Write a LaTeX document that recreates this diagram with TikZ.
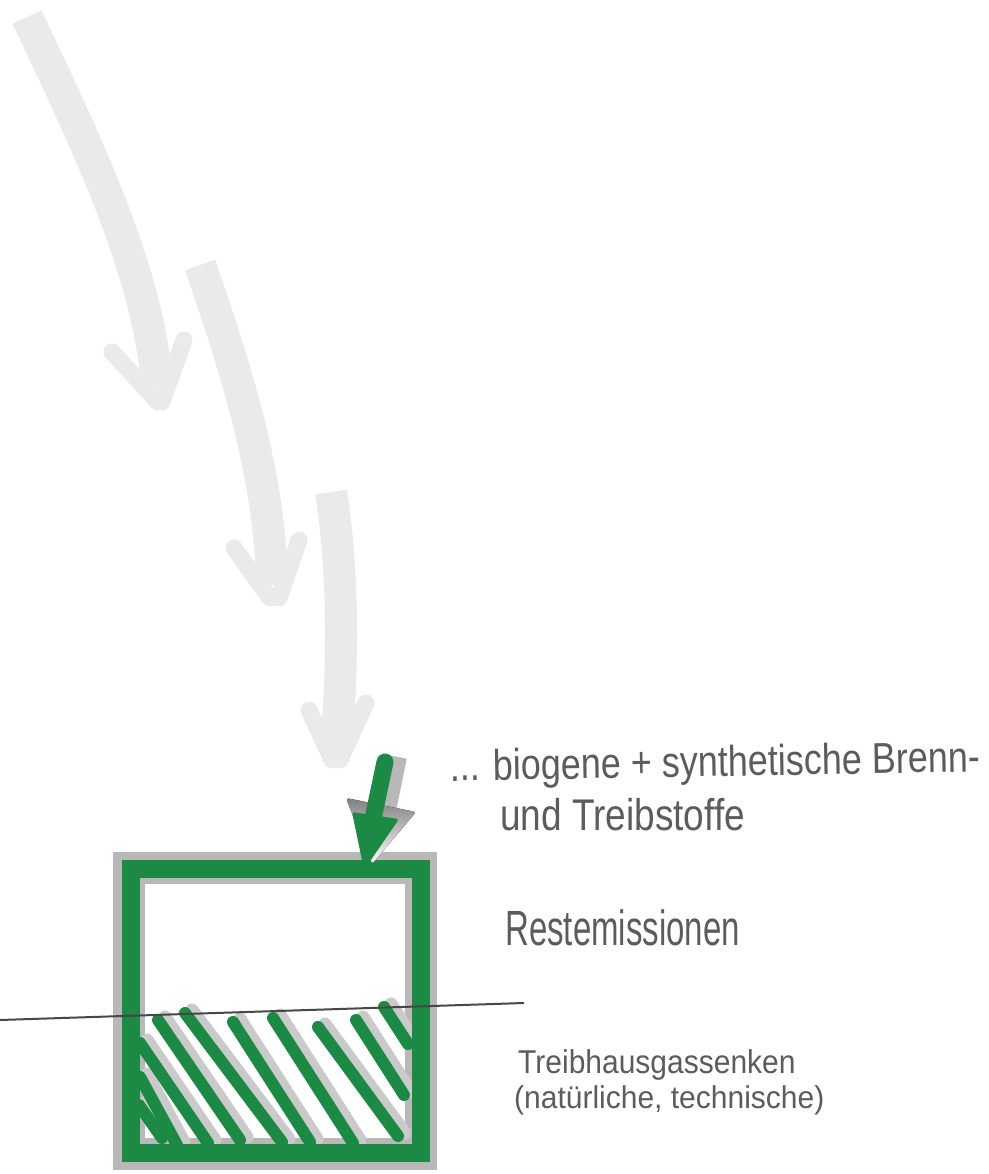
\documentclass[tikz,border=0pt]{standalone}
\usepackage{fontspec}
\usepackage{tikz}
\usetikzlibrary{arrows.meta,positioning}
\newfontfamily\handfont{Liberation Sans}
\definecolor{marker}{RGB}{28,138,68}
\definecolor{shade}{RGB}{184,184,184}
\definecolor{pale}{RGB}{234,234,234}
\definecolor{ink}{RGB}{92,92,92}
\newcommand\hatchlist{140/1043/208/1143, 140/1077/177/1145, 139/1105/162/1138,
  158/1020/240/1140, 185/1013/282/1142, 233/1022/310/1142, 273/1018/353/1143,
  318/1027/398/1136, 356/1020/404/1095, 384/1007/408/1044}

\begin{document}
\begin{tikzpicture}[
  x=1pt, y=-1pt,
  shaft/.style={draw=pale, line width=32pt},
  wing/.style={draw=pale, line width=17pt, line cap=round},
  frame/.style={draw=marker, line width=18pt, minimum width=290pt, minimum height=284pt},
  frameshade/.style={draw=shade, line width=32pt, minimum width=292pt, minimum height=286pt},
  hatch/.style={draw=marker, line width=12pt, line cap=round},
  hatchshade/.style={draw=shade!75, line width=13pt, line cap=round},
  ground/.style={draw=black!72, line width=2pt},
  hand/.style={text=ink, inner sep=0pt, anchor=base west, transform shape}
]
\useasboundingbox (0,0) rectangle (988,1174);

% falling arrows (pale)
\draw[shaft] (27,17) .. controls (80,130) and (150,270) .. (157,388);
\draw[wing] (112,352) -- (158,402);
\draw[wing] (184,340) -- (162,402);
\draw[shaft] (200,265) .. controls (240,380) and (270,480) .. (272,585);
\draw[wing] (234,548) -- (270,598);
\draw[wing] (299,540) -- (279,598);
\draw[shaft] (331,492) .. controls (345,580) and (342,680) .. (336,748);
\draw[wing] (309,710) -- (332,760);
\draw[wing] (366,703) -- (340,760);

% box
\node[frameshade] (boxshade) at (275,1011) {};
\foreach \xa/\ya/\xb/\yb in \hatchlist
  \draw[hatchshade] (\xa+7,\ya-3) -- (\xb+7,\yb-3);
\foreach \xa/\ya/\xb/\yb in \hatchlist
  \draw[hatch] (\xa,\ya) -- (\xb,\yb);
\node[frame] (box) at (276,1011) {};

% ground line
\coordinate (gl) at (0,1020);
\coordinate (gr) at (524,1003);
\draw[ground] (gl) -- (gr);

% green arrow
\coordinate (gtop) at (385,762);
\coordinate (gmid) at (371,828);
\draw[draw=shade, line width=18pt] (398,757) -- (386,815);
\fill[shade, rounded corners=3pt] (346,798) -- (416,812) -- (372,864) -- cycle;
\draw[draw=marker, line width=17pt, line cap=round] (gtop) -- (gmid);
\fill[marker, rounded corners=3pt] (352,812) -- (399,819) -- (364,870) -- cycle;

% labels
\coordinate (p1) at (450,781);
\coordinate (p2) at (500,830);
\coordinate (p3) at (505,945);
\coordinate (p4) at (518,1073);
\coordinate (p5) at (514,1108);
\node[hand, font=\handfont\fontsize{36}{40}\selectfont, rotate=1, yscale=1.2] (fuel1) at (p1) {... biogene + synthetische Brenn-};
\node[hand, font=\handfont\fontsize{37}{40}\selectfont, yscale=1.2] (fuel2) at (p2) {und Treibstoffe};
\node[hand, font=\handfont\fontsize{33}{40}\selectfont, yscale=1.5] (rest) at (p3) {Restemissionen};
\node[hand, font=\handfont\fontsize{30}{36}\selectfont, yscale=1.1] (sink1) at (p4) {Treibhausgassenken};
\node[hand, font=\handfont\fontsize{30}{36}\selectfont, yscale=1.05] (sink2) at (p5) {(natürliche, technische)};
\end{tikzpicture}
\end{document}
